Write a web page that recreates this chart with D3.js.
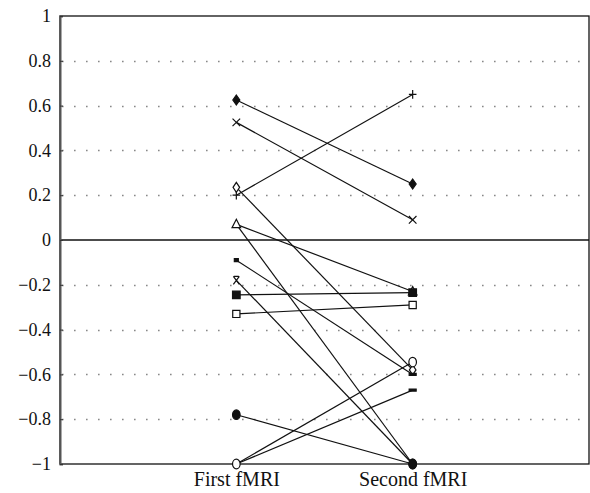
<!DOCTYPE html>
<html>
<head>
<meta charset="utf-8">
<script src="https://cdn.jsdelivr.net/npm/d3@7"></script>
<style>
  body { margin: 0; background: #fff; }
</style>
</head>
<body>
<div id="chart"></div>
<script>
//data
const categories = ['First fMRI', 'Second fMRI'];
const firstValues  = [0.625, 0.525, 0.2, 0.235, 0.07, 0.07, -0.09, -0.18, -0.245, -0.33, -0.78, -1, -1];
const secondValues = [0.25, 0.09, 0.65, -0.58, -0.23, -1, -0.6, -1, -0.235, -0.29, -1, -0.545, -0.67];
const firstMarkers  = ['diamondFilled', 'times', 'plus', 'diamondOpen', 'triangle', 'none', 'smallSquare', 'star', 'squareFilled', 'squareOpen', 'circleFilled', 'circleOpen', 'none'];
const secondMarkers = ['diamondFilled', 'times', 'plus', 'diamondOpen', 'triangle', 'none', 'dash', 'circleFilled', 'squareFilled', 'squareOpen', 'circleFilled', 'circleOpen', 'dash'];
const yTicks = [-1, -0.8, -0.6, -0.4, -0.2, 0, 0.2, 0.4, 0.6, 0.8, 1];

const C = {
  WIDTH: 590,
  HEIGHT: 493,
  LEFT: 60,
  RIGHT: 589,
  TOP: 16,
  BOTTOM: 464,
  FONT: '"Liberation Serif", "DejaVu Serif", "Times New Roman", serif'
};

const svg = d3.select('#chart').append('svg')
  .attr('width', C.WIDTH)
  .attr('height', C.HEIGHT);

//scales
const x = d3.scalePoint().domain(categories).range([C.LEFT, C.RIGHT]).padding(1);
const y = d3.scaleLinear().domain([-1, 1]).range([C.BOTTOM, C.TOP]);

//dotted grid
svg.append('g')
  .selectAll('line')
  .data(yTicks.filter(d => d !== 0 && Math.abs(d) !== 1))
  .enter().append('line')
  .attr('x1', C.LEFT + 2).attr('x2', C.RIGHT)
  .attr('y1', d => Math.round(y(d)) + 0.5).attr('y2', d => Math.round(y(d)) + 0.5)
  .attr('stroke', '#888')
  .attr('stroke-width', 1.6)
  .attr('stroke-dasharray', '1.6,10.4');

//zero line
svg.append('line')
  .attr('x1', C.LEFT).attr('x2', C.RIGHT)
  .attr('y1', y(0)).attr('y2', y(0))
  .attr('stroke', '#111').attr('stroke-width', 1.3);

//frame
svg.append('rect')
  .attr('x', C.LEFT).attr('y', C.TOP)
  .attr('width', C.RIGHT - C.LEFT).attr('height', C.BOTTOM - C.TOP)
  .attr('fill', 'none').attr('stroke', '#111').attr('stroke-width', 1.3);

//y axis
const yAxis = d3.axisLeft(y)
  .tickValues(yTicks)
  .tickSize(-3)
  .tickPadding(9)
  .tickFormat(d => d3.format('')(d).replace('-', '\u2212'));
const gy = svg.append('g')
  .attr('transform', 'translate(' + C.LEFT + ',0)')
  .attr('font-family', C.FONT)
  .call(yAxis);
gy.select('.domain').attr('stroke', '#555').attr('stroke-width', 2);
gy.selectAll('.tick line').attr('stroke', '#333');
gy.selectAll('text')
  .style('font-family', C.FONT)
  .style('font-size', '18px')
  .attr('fill', '#111');

//x labels
const xAxis = d3.axisBottom(x).tickSize(0).tickPadding(8);
const gx = svg.append('g')
  .attr('transform', 'translate(0,' + C.BOTTOM + ')')
  .attr('font-family', C.FONT)
  .call(xAxis);
gx.select('.domain').remove();
gx.selectAll('text')
  .style('font-family', C.FONT)
  .style('font-size', '20px')
  .attr('fill', '#111');

//lines
const pairs = firstValues.map((v, i) => ({first: v, second: secondValues[i]}));
svg.append('g')
  .selectAll('line')
  .data(pairs)
  .enter().append('line')
  .attr('x1', x(categories[0])).attr('y1', d => y(d.first))
  .attr('x2', x(categories[1])).attr('y2', d => y(d.second))
  .attr('stroke', '#111')
  .attr('stroke-width', 1.2);

//markers
const shapes = {
  diamondFilled: {d: 'M0,-5L3.5,0L0,5L-3.5,0Z', fill: '#111'},
  diamondOpen: {d: 'M0,-5L3.3,0L0,5L-3.3,0Z', fill: '#fff'},
  times: {d: 'M-3.8,-3.8L3.8,3.8M3.8,-3.8L-3.8,3.8', fill: 'none'},
  plus: {d: 'M-3.8,0L3.8,0M0,-4.3L0,4.3', fill: 'none'},
  star: {d: 'M-3,-4L3,4M3,-4L-3,4M-2.5,-4L2.5,-4', fill: 'none'},
  triangle: {d: 'M0,-5L4.3,3.3L-4.3,3.3Z', fill: '#fff'},
  squareFilled: {d: 'M-3.8,-3.8L3.8,-3.8L3.8,3.8L-3.8,3.8Z', fill: '#111'},
  squareOpen: {d: 'M-3.6,-3.6L3.6,-3.6L3.6,3.6L-3.6,3.6Z', fill: '#fff'},
  smallSquare: {d: 'M-2,-1.5L2,-1.5L2,1.5L-2,1.5Z', fill: '#111'},
  dash: {d: 'M-3.5,-1L3.5,-1L3.5,1L-3.5,1Z', fill: '#111'},
  circleFilled: {d: 'M0,-4.8A3.8,4.8 0 1,1 0,4.8A3.8,4.8 0 1,1 0,-4.8Z', fill: '#111'},
  circleOpen: {d: 'M0,-4.8A3.8,4.8 0 1,1 0,4.8A3.8,4.8 0 1,1 0,-4.8Z', fill: '#fff'}
};

function drawMarkers(values, markers, cat) {
  svg.append('g')
    .selectAll('path')
    .data(values.map((v, i) => ({v: v, m: markers[i]})).filter(d => d.m !== 'none'))
    .enter().append('path')
    .attr('transform', d => 'translate(' + x(cat) + ',' + y(d.v) + ')')
    .attr('d', d => shapes[d.m].d)
    .attr('fill', d => shapes[d.m].fill)
    .attr('stroke', '#111')
    .attr('stroke-width', 1.2);
}
drawMarkers(firstValues, firstMarkers, categories[0]);
drawMarkers(secondValues, secondMarkers, categories[1]);
</script>
</body>
</html>
